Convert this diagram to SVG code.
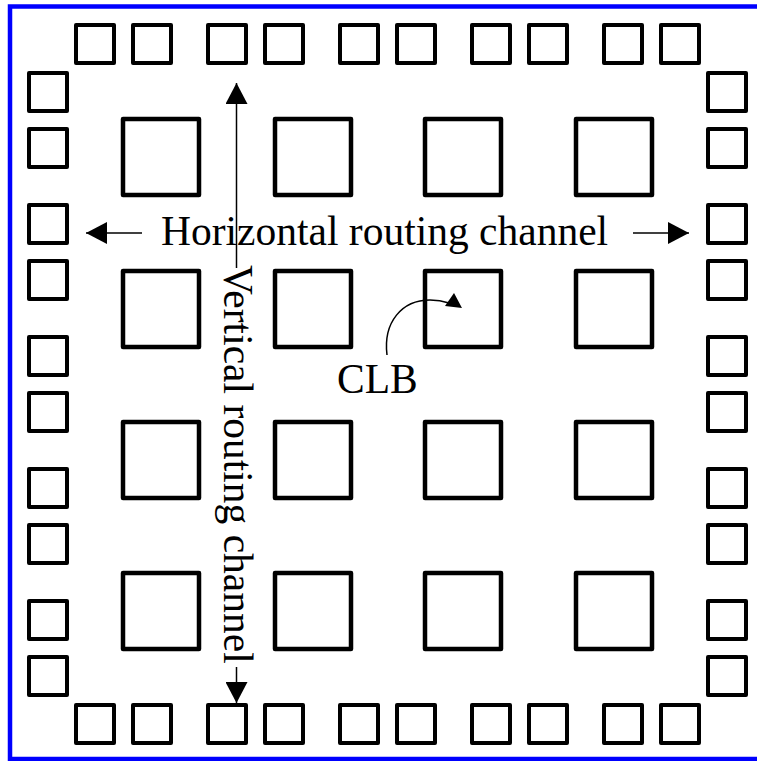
<svg xmlns="http://www.w3.org/2000/svg" width="757" height="761" viewBox="0 0 757 761">
  <style>
    .pad { fill: none; stroke: #000; stroke-width: 4; stroke-linejoin: round; }
    .clb { fill: none; stroke: #000; stroke-width: 4.5; stroke-linejoin: round; }
    .wire { fill: none; stroke: #000; stroke-width: 1.5; }
    .label { font-family: "Liberation Serif", "Times New Roman", serif; font-size: 41.5px; fill: #000; }
  </style>
  <defs>
    <marker id="head" markerUnits="userSpaceOnUse" markerWidth="22" markerHeight="22" refX="21" refY="11" orient="auto" viewBox="0 0 22 22">
      <path d="M0,0 L21,11 L0,22 z" fill="#000"/>
    </marker>
  </defs>

  <rect width="757" height="761" fill="#fff"/>
  <!-- chip outline -->
  <rect x="10" y="6.5" width="760" height="752.5" fill="none" stroke="#0000ff" stroke-width="4.5"/>

  <!-- I/O pads, top row -->
  <g id="pads-top">
    <rect class="pad" x="76" y="25" width="38" height="38"/>
    <rect class="pad" x="133" y="25" width="38" height="38"/>
    <rect class="pad" x="208" y="25" width="38" height="38"/>
    <rect class="pad" x="265" y="25" width="38" height="38"/>
    <rect class="pad" x="340" y="25" width="38" height="38"/>
    <rect class="pad" x="397" y="25" width="38" height="38"/>
    <rect class="pad" x="472" y="25" width="38" height="38"/>
    <rect class="pad" x="529" y="25" width="38" height="38"/>
    <rect class="pad" x="604" y="25" width="38" height="38"/>
    <rect class="pad" x="661" y="25" width="38" height="38"/>
  </g>
  <!-- I/O pads, bottom row -->
  <g id="pads-bottom">
    <rect class="pad" x="76" y="705" width="38" height="38"/>
    <rect class="pad" x="133" y="705" width="38" height="38"/>
    <rect class="pad" x="208" y="705" width="38" height="38"/>
    <rect class="pad" x="265" y="705" width="38" height="38"/>
    <rect class="pad" x="340" y="705" width="38" height="38"/>
    <rect class="pad" x="397" y="705" width="38" height="38"/>
    <rect class="pad" x="472" y="705" width="38" height="38"/>
    <rect class="pad" x="529" y="705" width="38" height="38"/>
    <rect class="pad" x="604" y="705" width="38" height="38"/>
    <rect class="pad" x="661" y="705" width="38" height="38"/>
  </g>
  <!-- I/O pads, left column -->
  <g id="pads-left">
    <rect class="pad" x="29" y="73" width="38" height="38"/>
    <rect class="pad" x="29" y="129" width="38" height="38"/>
    <rect class="pad" x="29" y="205" width="38" height="38"/>
    <rect class="pad" x="29" y="261" width="38" height="38"/>
    <rect class="pad" x="29" y="337" width="38" height="38"/>
    <rect class="pad" x="29" y="393" width="38" height="38"/>
    <rect class="pad" x="29" y="469" width="38" height="38"/>
    <rect class="pad" x="29" y="525" width="38" height="38"/>
    <rect class="pad" x="29" y="601" width="38" height="38"/>
    <rect class="pad" x="29" y="657" width="38" height="38"/>
  </g>
  <!-- I/O pads, right column -->
  <g id="pads-right">
    <rect class="pad" x="708" y="73" width="38" height="38"/>
    <rect class="pad" x="708" y="129" width="38" height="38"/>
    <rect class="pad" x="708" y="205" width="38" height="38"/>
    <rect class="pad" x="708" y="261" width="38" height="38"/>
    <rect class="pad" x="708" y="337" width="38" height="38"/>
    <rect class="pad" x="708" y="393" width="38" height="38"/>
    <rect class="pad" x="708" y="469" width="38" height="38"/>
    <rect class="pad" x="708" y="525" width="38" height="38"/>
    <rect class="pad" x="708" y="601" width="38" height="38"/>
    <rect class="pad" x="708" y="657" width="38" height="38"/>
  </g>

  <!-- configurable logic blocks, 4 x 4 -->
  <g id="clb-array">
    <rect class="clb" x="123" y="119" width="76" height="76"/>
    <rect class="clb" x="275" y="119" width="76" height="76"/>
    <rect class="clb" x="425" y="119" width="76" height="76"/>
    <rect class="clb" x="576" y="119" width="76" height="76"/>
    <rect class="clb" x="123" y="271" width="76" height="76"/>
    <rect class="clb" x="275" y="271" width="76" height="76"/>
    <rect class="clb" x="425" y="271" width="76" height="76"/>
    <rect class="clb" x="576" y="271" width="76" height="76"/>
    <rect class="clb" x="123" y="422" width="76" height="76"/>
    <rect class="clb" x="275" y="422" width="76" height="76"/>
    <rect class="clb" x="425" y="422" width="76" height="76"/>
    <rect class="clb" x="576" y="422" width="76" height="76"/>
    <rect class="clb" x="123" y="573" width="76" height="76"/>
    <rect class="clb" x="275" y="573" width="76" height="76"/>
    <rect class="clb" x="425" y="573" width="76" height="76"/>
    <rect class="clb" x="576" y="573" width="76" height="76"/>
  </g>

  <!-- channel arrows -->
  <g id="connectors">
    <line class="wire" x1="236.5" y1="268" x2="236.5" y2="83" marker-end="url(#head)"/>
    <line class="wire" x1="236.5" y1="667" x2="236.5" y2="703" marker-end="url(#head)"/>
    <line class="wire" x1="142" y1="233" x2="86" y2="233" marker-end="url(#head)"/>
    <line class="wire" x1="633" y1="233" x2="689" y2="233" marker-end="url(#head)"/>
    <path class="wire" d="M387,355 C383,322 402,300 430,300 C437,300 443,301 449,303"/>
    <polygon points="445,306 454,293 462,308" fill="#000"/>
  </g>

  <!-- labels -->
  <g id="labels">
    <text class="label" x="161" y="245">Horizontal routing channel</text>
    <text class="label" transform="translate(224,265) rotate(90)">Vertical routing channel</text>
    <text class="label" x="337" y="393">CLB</text>
  </g>
</svg>
